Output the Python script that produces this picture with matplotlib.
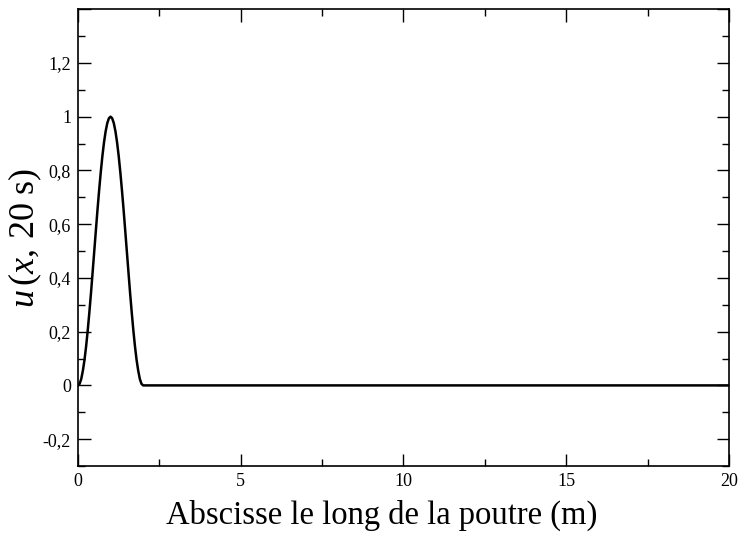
import matplotlib.pyplot as plt
from matplotlib.ticker import MultipleLocator, FuncFormatter

plt.rcParams['font.family'] = ['Liberation Serif', 'DejaVu Serif']
plt.rcParams['mathtext.fontset'] = 'custom'
plt.rcParams['mathtext.rm'] = 'Liberation Serif'
plt.rcParams['mathtext.it'] = 'Liberation Serif:italic'

# deplacement le long de la poutre a t = 20 s
x = [0.0, 0.05, 0.1, 0.15, 0.2, 0.25, 0.3, 0.35, 0.4, 0.45, 0.5,
     0.55, 0.6, 0.65, 0.7, 0.75, 0.8, 0.85, 0.9, 0.95, 1.0,
     1.05, 1.1, 1.15, 1.2, 1.25, 1.3, 1.35, 1.4, 1.45, 1.5,
     1.55, 1.6, 1.65, 1.7, 1.75, 1.8, 1.85, 1.9, 1.95, 2.0, 20.0]
u = [0.0, 0.006, 0.024, 0.055, 0.095, 0.146, 0.206, 0.273, 0.345, 0.422, 0.5,
     0.578, 0.655, 0.727, 0.794, 0.854, 0.905, 0.946, 0.976, 0.994, 1.0,
     0.994, 0.976, 0.946, 0.905, 0.854, 0.794, 0.727, 0.655, 0.578, 0.5,
     0.422, 0.345, 0.273, 0.206, 0.146, 0.095, 0.055, 0.024, 0.006, 0.0, 0.0]

fig = plt.figure(figsize=(7.4, 5.4), dpi=100)
ax = fig.add_axes([0.1054, 0.137, 0.8796, 0.846])

ax.plot(x, u, color='black', lw=1.8)

ax.set_xlim(0, 20)
ax.set_ylim(-0.3, 1.4)
ax.xaxis.set_major_locator(MultipleLocator(5))
ax.xaxis.set_minor_locator(MultipleLocator(2.5))
ax.yaxis.set_major_locator(MultipleLocator(0.2))
ax.yaxis.set_minor_locator(MultipleLocator(0.1))

def virgule(v, pos):
    return ('%g' % round(v, 2)).replace('.', ',')

def virgule_y(v, pos):
    # pas d'etiquette sur le bord haut
    if v > 1.3:
        return ''
    return virgule(v, pos)

ax.yaxis.set_major_formatter(FuncFormatter(virgule_y))
ax.xaxis.set_major_formatter(FuncFormatter(virgule))

ax.tick_params(which='both', direction='in', top=True, right=True, labelsize=13, width=1)
ax.tick_params(which='major', length=9, pad=5)
ax.tick_params(which='minor', length=5)
for s in ax.spines.values():
    s.set_linewidth(1.2)

ax.set_xlabel('Abscisse le long de la poutre (m)', fontsize=23.5)
ax.xaxis.set_label_coords(0.466, -0.073)
ax.set_ylabel(r'$u\,(x,\,20\ \mathrm{s})$', fontsize=26)
ax.yaxis.set_label_coords(-0.052, 0.5)

fig.savefig('out.png', dpi=100)
